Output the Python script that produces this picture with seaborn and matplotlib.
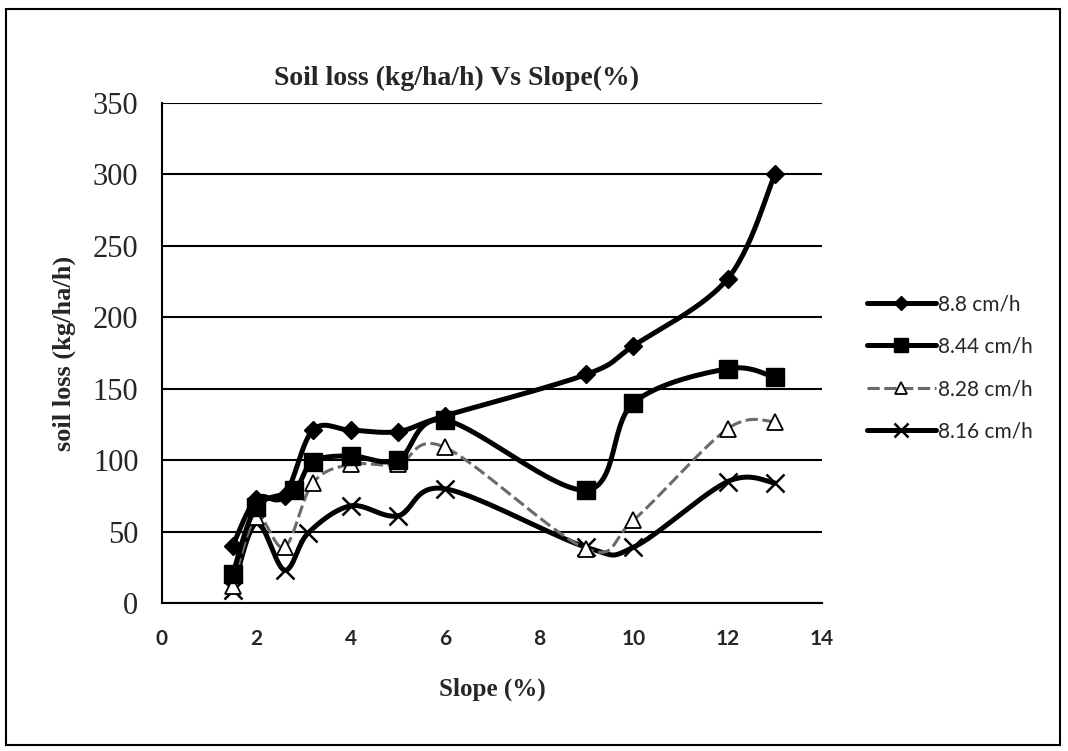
import numpy as np
import pandas as pd
import matplotlib
matplotlib.use("Agg")
import matplotlib.pyplot as plt
from matplotlib.lines import Line2D
from matplotlib.patches import Rectangle
import seaborn as sns

# ---- data ----
x_88 = [1.5, 2, 2.6, 3.2, 4, 5, 6, 9, 10, 12, 13]
y_88 = [40, 73, 75, 121, 121, 120, 131, 160, 180, 227, 300]

x_844 = [1.5, 2, 2.8, 3.2, 4, 5, 6, 9, 10, 12, 13]
y_844 = [20, 67, 79, 99, 103, 100, 128, 79, 140, 164, 158]

x_828 = [1.5, 2, 2.6, 3.2, 4, 5, 6, 9, 10, 12, 13]
y_828 = [12, 60, 39, 84, 97, 97, 109, 38, 58, 122, 127]

x_816 = [1.5, 2, 2.6, 3.1, 4, 5, 6, 9, 10, 12, 13]
y_816 = [9, 56, 23, 49, 68, 61, 80, 39, 39, 85, 84]

series_names = ["8.8 cm/h", "8.44 cm/h", "8.28 cm/h", "8.16 cm/h"]
x_ticks = [0, 2, 4, 6, 8, 10, 12, 14]
y_ticks = [0, 50, 100, 150, 200, 250, 300, 350]

title = "Soil loss (kg/ha/h) Vs Slope(%)"
xlabel = "Slope (%)"
ylabel = "soil loss (kg/ha/h)"


def smooth(xs, ys, n=30):
    """Excel-like smoothed line (Catmull-Rom Bezier) through the data points."""
    P = np.column_stack([xs, ys]).astype(float)
    out = []
    m = len(P)
    for i in range(m - 1):
        p0 = P[i - 1] if i > 0 else P[i]
        p1 = P[i]
        p2 = P[i + 1]
        p3 = P[i + 2] if i + 2 < m else P[i + 1]
        c1 = p1 + (p2 - p0) / 6.0
        c2 = p2 - (p3 - p1) / 6.0
        t = np.linspace(0, 1, n)[:, None]
        seg = ((1 - t) ** 3) * p1 + 3 * ((1 - t) ** 2) * t * c1 + 3 * (1 - t) * t ** 2 * c2 + t ** 3 * p2
        out.append(seg if i == 0 else seg[1:])
    s = np.vstack(out)
    return s[:, 0], s[:, 1]


sns.set_theme(style="white")
plt.rcParams["font.family"] = ["Liberation Serif", "DejaVu Serif"]

fig = plt.figure(figsize=(10.68, 7.51), dpi=100)
ax = fig.add_axes([162 / 1068, 1 - 603 / 751, 660 / 1068, 500 / 751])

styles = [
    dict(x=x_88, y=y_88, color="black", lw=3.6, ls="-", marker="D", ms=9, mfc="black", mec="black", mew=1, z=5),
    dict(x=x_844, y=y_844, color="black", lw=3.6, ls="-", marker="s", ms=13, mfc="black", mec="black", mew=1, z=4),
    dict(x=x_828, y=y_828, color="#6a6a6a", lw=2.2, ls=(0, (4, 1.5)), marker="^", ms=11, mfc="white", mec="black", mew=1.3, z=3),
    dict(x=x_816, y=y_816, color="black", lw=3.6, ls="-", marker="x", ms=13, mfc="black", mec="black", mew=1.8, z=2),
]

handles = []
for name, st in zip(series_names, styles):
    sx, sy = smooth(st["x"], st["y"])
    sns.lineplot(x=sx, y=sy, sort=False, estimator=None, ax=ax, color=st["color"],
                 linewidth=st["lw"], linestyle=st["ls"], zorder=st["z"], legend=False)
    df = pd.DataFrame({"x": st["x"], "y": st["y"]})
    ax.plot(df["x"], df["y"], linestyle="none", marker=st["marker"], markersize=st["ms"],
            markerfacecolor=st["mfc"], markeredgecolor=st["mec"], markeredgewidth=st["mew"],
            zorder=st["z"] + 0.5)
    handles.append(Line2D([0], [0], color=st["color"], lw=st["lw"], ls=st["ls"], marker=st["marker"],
                          markersize=st["ms"] * 0.8, markerfacecolor=st["mfc"],
                          markeredgecolor=st["mec"], markeredgewidth=st["mew"], label=name))

ax.set_xlim(0, 14)
ax.set_ylim(0, 350)
ax.set_xticks(x_ticks)
ax.set_yticks(y_ticks)
ax.set_xticklabels([str(v) for v in x_ticks], fontfamily="Lato", fontweight="bold", fontsize=15)
ax.set_yticklabels([str(v) for v in y_ticks], fontsize=22)
ax.yaxis.grid(True, color="black", linewidth=1.5)
ax.xaxis.grid(False)
for s in ["top", "right"]:
    ax.spines[s].set_visible(False)
for s in ["left", "bottom"]:
    ax.spines[s].set_color("black")
    ax.spines[s].set_linewidth(1.5)
ax.tick_params(axis="y", direction="inout", length=14, width=1.2, color="black", pad=10)
ax.tick_params(axis="x", direction="out", length=7, width=1.2, color="black", pad=12)

ax.set_xlabel(xlabel, fontsize=18, fontweight="bold", labelpad=20)
ax.set_ylabel(ylabel, fontsize=19, fontweight="bold", labelpad=12)
fig.text(457 / 1068, 1 - 78 / 751, title, ha="center", va="center", fontsize=20, fontweight="bold")

leg = fig.legend(handles=handles, loc="center left", bbox_to_anchor=(848 / 1068, 1 - 368 / 751),
                 frameon=False, handlelength=3.3, handletextpad=0.1, labelspacing=1.08,
                 prop={"family": "Lato", "size": 15})

fig.add_artist(Rectangle((6 / 1068, 6 / 751), 1054 / 1068, 736 / 751, transform=fig.transFigure,
                         fill=False, edgecolor="black", linewidth=1.5))

fig.savefig("out.png", dpi=100)
